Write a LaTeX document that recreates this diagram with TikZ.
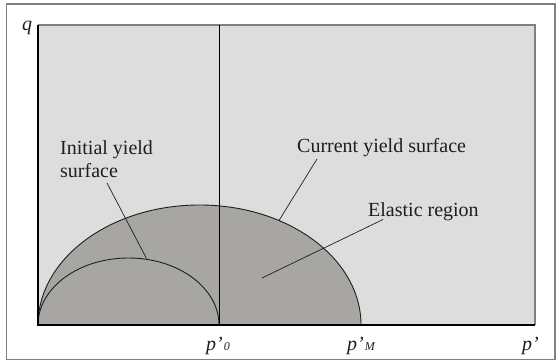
\documentclass[tikz,border=0pt]{standalone}
\usepackage{fontspec}
\setmainfont{Liberation Serif}
\definecolor{plotbg}{RGB}{221,221,221}
\definecolor{regionfill}{RGB}{168,166,162}
\definecolor{framegray}{RGB}{128,128,128}
\definecolor{inkdark}{RGB}{30,30,30}
\tikzset{
  labeltext/.style={inner sep=0pt, font=\fontsize{20}{23}\selectfont, text=inkdark},
  axislabel/.style={inner sep=0pt, font=\fontsize{20}{23}\selectfont\itshape, text=inkdark},
  leader/.style={draw=inkdark, line width=0.7pt},
  curve/.style={draw=inkdark, line width=0.9pt},
  axisline/.style={draw=black, line width=1.1pt}
}
\begin{document}
\begin{tikzpicture}[x=1pt,y=1pt]
\useasboundingbox (0,0) rectangle (556,363);
% outer frame
\draw[framegray, line width=1.5pt] (6.5,3.5) rectangle (555,359);
% plot area
\fill[plotbg] (38,38) rectangle (535,338);
\draw[framegray, line width=1.5pt] (38,338) -- (535,338) -- (535,38);
% current yield surface (filled region)
\filldraw[fill=regionfill, curve] (38,38) arc[start angle=180, end angle=0, x radius=161.5, y radius=120] -- cycle;
% initial yield surface
\draw[curve] (38,38) arc[start angle=180, end angle=0, x radius=90.5, y radius=67];
% p'0 vertical line
\coordinate (vtop) at (219,338);
\coordinate (vbot) at (219,38);
\draw[axisline, line width=0.9pt] (vbot) -- (vtop);
% axes
\coordinate (origin) at (38,38);
\coordinate (qtop) at (38,338);
\coordinate (pright) at (535,38);
\draw[axisline] (qtop) -- (origin) -- (pright);
% labels
\node[labeltext, anchor=base west] (initA) at (60,208) {Initial yield};
\node[labeltext, anchor=base west] (initB) at (60,185) {surface};
\node[labeltext, anchor=base west] (curlab) at (297,210) {Current yield surface};
\node[labeltext, anchor=base west] (elalab) at (368,146) {Elastic region};
% leader lines
\coordinate (iS) at (107,180);
\coordinate (iE) at (146.5,104.5);
\draw[leader] (iS) -- (iE);
\coordinate (cS) at (317,204);
\coordinate (cE) at (279,142.5);
\draw[leader] (cS) -- (cE);
\coordinate (eS) at (383,143.5);
\coordinate (eE) at (262,85);
\draw[leader] (eS) -- (eE);
% axis labels
\node[axislabel, anchor=base west] (qlab) at (22,332) {q};
\node[axislabel, anchor=base west] (p0lab) at (206,12) {p’\kern1pt\raisebox{0pt}{\fontsize{12}{12}\selectfont 0}};
\node[axislabel, anchor=base west] (pMlab) at (347,12) {p’\kern1pt\raisebox{0pt}{\fontsize{12}{12}\selectfont M}};
\node[axislabel, anchor=base west] (plab) at (522,12) {p’};
\end{tikzpicture}
\end{document}
